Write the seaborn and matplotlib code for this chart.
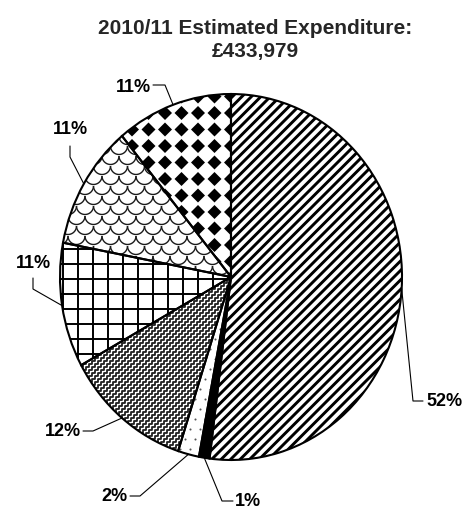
import numpy as np
import matplotlib
matplotlib.use("Agg")
import matplotlib.pyplot as plt
import seaborn as sns
from matplotlib.collections import LineCollection, PolyCollection
from matplotlib.transforms import IdentityTransform

# ---- data -------------------------------------------------------------
title_lines = ["2010/11 Estimated Expenditure:", "£433,979"]
shares = [52, 1, 2, 12, 11, 11, 11]            # percent of total, clockwise from 12 o'clock
fills = ["none", "black", "none", "none", "none", "none", "none"]
textures = ["stripes", None, "dots", "weave", "grid", "scales", "diamonds"]

# ---- style ------------------------------------------------------------
sns.set_theme(style="white")
plt.rcParams["font.family"] = ["Liberation Sans", "DejaVu Sans"]

W, H, DPI = 465, 510, 100
fig = plt.figure(figsize=(W / DPI, H / DPI), dpi=DPI)
fig.patch.set_facecolor("white")

# pie frame in pixel units (origin top-left): centre and radii
CX, CY, RX, RY = 231, 278, 171, 183
ax = fig.add_axes([(CX - RX) / W, (H - (CY + RY)) / H, 2 * RX / W, 2 * RY / H])


def px2d(px, py):
    """Pixel position (top-left origin) -> data coordinates of the pie axes."""
    return (px - CX) / RX, (CY - py) / RY


wedges, _ = ax.pie(shares, startangle=90, counterclock=False, colors=fills,
                   wedgeprops=dict(edgecolor="black", linewidth=1.5))
for w in wedges:
    w.set_clip_on(False)
    w.set_zorder(3)
ax.set_aspect("auto")
ax.set_xlim(-1, 1)
ax.set_ylim(-1, 1)
ax.axis("off")

# ---- fill textures, built in display pixels and clipped to each wedge --
ident = IdentityTransform()


def stripes(period=9.5, lw=2.1):
    segs = [[(-20, c - 20), (W + 20, c + W + 20)] for c in np.arange(-W - 20, H + 20, period)]
    return LineCollection(segs, colors="black", linewidths=lw, transform=ident)


def grid(period=15.0, lw=1.4):
    v = [[(x, -20), (x, H + 20)] for x in np.arange(3, W + period, period)]
    h = [[(-20, y), (W + 20, y)] for y in np.arange(5, H + period, period)]
    return LineCollection(v + h, colors="black", linewidths=lw, transform=ident)


def weave(step=3.0, gap=6.0, lw=1.3):
    n = int((H + 60) / step) + 2
    segs = []
    for x0 in np.arange(-H - 40, W + 20, gap):
        pts, x, y = [], x0, -20.0
        for _ in range(n):
            pts.append((x, y)); x += step
            pts.append((x, y)); y += step
        segs.append(pts)
    return LineCollection(segs, colors="#202020", linewidths=lw, transform=ident)


def scales(r=8.5, dy=10.0, lw=1.0):
    t = np.linspace(np.pi, 2 * np.pi, 18)
    arc = np.column_stack([r * np.cos(t), r * np.sin(t)])
    segs = []
    for j, y in enumerate(np.arange(-2 * r, H + 2 * r, dy)):
        off = (j % 2) * r
        for x in np.arange(-2 * r, W + 2 * r, 2 * r):
            segs.append(arc + (x + off, y))
    return LineCollection(segs, colors="#1a1a1a", linewidths=lw, transform=ident)


def diamonds(period=16.5, half=7.0):
    polys = []
    for x in np.arange(0, W + period, period):
        for y in np.arange(0, H + period, period):
            polys.append([(x - half, y), (x, y + half), (x + half, y), (x, y - half)])
    return PolyCollection(polys, facecolors="black", edgecolors="none", transform=ident)


for w, tex in zip(wedges, textures):
    if tex is None:
        continue
    if tex == "dots":
        gx, gy = np.meshgrid(np.arange(0, W, 10.0), np.arange(0, H, 10.0))
        gx = gx + (np.arange(gx.shape[0])[:, None] % 2) * 5
        art = ax.scatter(gx.ravel(), gy.ravel(), s=2.2, color="#555555",
                         linewidths=0, transform=ident, zorder=2)
    else:
        art = {"stripes": stripes, "grid": grid, "weave": weave,
               "scales": scales, "diamonds": diamonds}[tex]()
        art.set_zorder(2)
        ax.add_collection(art, autolim=False)
    art.set_clip_path(w)

ax.set_xlim(-1, 1)
ax.set_ylim(-1, 1)

# ---- percentage labels with leader lines -------------------------------
# (elbow, segment end, text anchor) in pixels, horizontal alignment
label_layout = [
    ((413, 402), (423, 402), (426, 402), "left"),
    ((222, 502), (233, 502), (235, 502), "left"),
    ((140, 497), (130, 497), (128, 497), "right"),
    ((93, 432), (83, 432), (81, 432), "right"),
    ((33, 290), (33, 279), (33, 263), "center"),
    ((70, 158), (70, 147), (70, 130), "center"),
    ((165, 86), (153, 86), (151, 87), "right"),
]
for w, v, (elbow, seg_end, anchor, ha) in zip(wedges, shares, label_layout):
    mid = np.deg2rad((w.theta1 + w.theta2) / 2)
    pts = np.array([(np.cos(mid), np.sin(mid)), px2d(*elbow), px2d(*seg_end)])
    ax.plot(pts[:, 0], pts[:, 1], color="black", lw=0.8, clip_on=False, zorder=4)
    ax.text(*px2d(*anchor), f"{v}%", ha=ha, va="center", fontsize=13,
            fontweight="bold", color="black")

fig.suptitle("\n".join(title_lines), x=255 / W, y=1 - 40 / H, va="center",
             fontsize=15, fontweight="bold", linespacing=1.25)

fig.savefig("out.png", dpi=DPI, facecolor="white")
